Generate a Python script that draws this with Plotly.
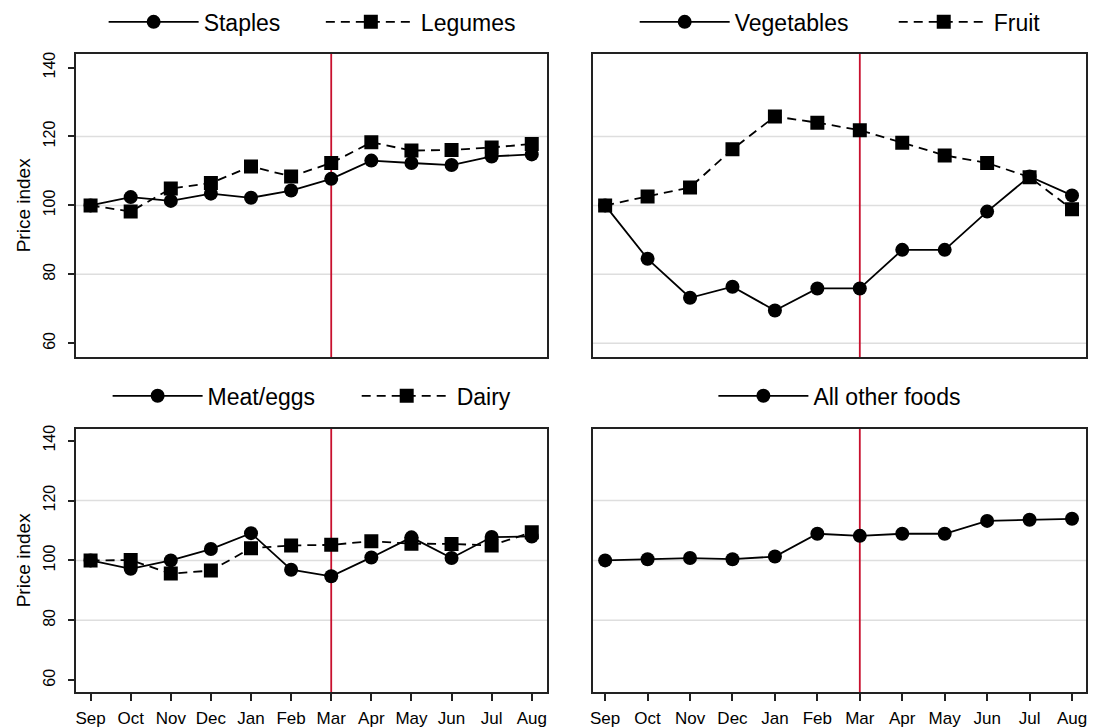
import plotly.graph_objects as go
from plotly.subplots import make_subplots

# ---------------- data ----------------
months = ["Sep", "Oct", "Nov", "Dec", "Jan", "Feb", "Mar", "Apr", "May", "Jun", "Jul", "Aug"]
staples = [100, 102.4, 101.3, 103.4, 102.2, 104.3, 107.7, 113.0, 112.3, 111.7, 114.2, 114.8]
legumes = [100, 98.2, 104.9, 106.5, 111.3, 108.4, 112.3, 118.3, 115.9, 116.1, 116.8, 117.8]
vegetables = [100, 84.5, 73.2, 76.4, 69.5, 75.9, 75.9, 87.1, 87.1, 98.2, 108.4, 102.9]
fruit = [100, 102.6, 105.2, 116.3, 125.8, 124.0, 121.8, 118.2, 114.5, 112.3, 108.2, 98.9]
meat_eggs = [100, 97.2, 100.0, 103.8, 109.1, 96.9, 94.7, 101.0, 107.7, 100.8, 107.8, 108.0]
dairy = [100, 100.1, 95.6, 96.6, 104.1, 105.0, 105.2, 106.4, 105.6, 105.5, 105.0, 109.4]
other_foods = [100, 100.4, 100.8, 100.4, 101.3, 108.9, 108.2, 108.9, 108.9, 113.2, 113.6, 113.9]
y_ticks = [60, 80, 100, 120, 140]
y_title = "Price index"
event_month = "Mar"

FONT = "Liberation Sans, Arial, sans-serif"
RED = "#c8102e"
GRID = "#dedede"
x = list(range(len(months)))

fig = make_subplots(rows=2, cols=2)

def add_series(name, vals, row, col, legend, dashed):
    fig.add_trace(go.Scatter(
        x=x, y=vals, name=name, mode="lines+markers",
        line=dict(color="black", width=1.8, dash="9px,6px" if dashed else "solid"),
        marker=dict(symbol="square" if dashed else "circle", size=14, color="black"),
        legend=legend, showlegend=True,
    ), row=row, col=col)

add_series("Staples", staples, 1, 1, "legend", False)
add_series("Legumes", legumes, 1, 1, "legend2", True)
add_series("Vegetables", vegetables, 1, 2, "legend3", False)
add_series("Fruit", fruit, 1, 2, "legend4", True)
add_series("Meat/eggs", meat_eggs, 2, 1, "legend5", False)
add_series("Dairy", dairy, 2, 1, "legend6", True)
add_series("All other foods", other_foods, 2, 2, "legend7", False)

# gridlines and event line
for r in (1, 2):
    for c in (1, 2):
        grid_vals = y_ticks[1:-1] + ([y_ticks[0]] if (r, c) == (1, 2) else [])
        for v in grid_vals:
            fig.add_hline(y=v, row=r, col=c, line=dict(color=GRID, width=1.5), layer="below")
        fig.add_vline(x=months.index(event_month), row=r, col=c,
                      line=dict(color=RED, width=1.8), layer="below")

# domains
W, H = 1094, 728
xl = [73 / W, 546 / W]
xr = [592 / W, 1087 / W]
yt = [1 - 355 / H, 1 - 50 / H]
yb = [1 - 692 / H, 1 - 427 / H]
YR = [56, 144]

axis_common = dict(showline=True, mirror=True, linecolor="#222", linewidth=1.6,
                   showgrid=False, zeroline=False)

for (r, c, xd, yd) in [(1, 1, xl, yt), (1, 2, xr, yt), (2, 1, xl, yb), (2, 2, xr, yb)]:
    left = c == 1
    bottom = r == 2
    fig.update_xaxes(
        domain=xd, range=[-0.37, 11.38] if left else [-0.29, 11.33],
        tickvals=x, ticktext=months if bottom else [""] * len(months),
        ticks="outside" if bottom else "", ticklen=7, tickwidth=1.5, tickcolor="#222",
        showticklabels=bottom, ticklabelstandoff=3,
        tickfont=dict(family=FONT, size=17, color="black"),
        row=r, col=c, **axis_common)
    fig.update_yaxes(
        domain=yd, range=YR, tickvals=y_ticks,
        ticks="outside" if left else "", ticklen=6, tickwidth=1.5, tickcolor="#222",
        showticklabels=False,
        row=r, col=c, **axis_common)

# separate label-only y axes for the left panels (rotated tick labels)
label_axis = dict(anchor="free", range=YR, tickvals=y_ticks, showline=False, ticks="",
                  showgrid=False, zeroline=False, tickangle=-90,
                  tickfont=dict(family=FONT, size=16, color="black"))
fig.update_layout(
    yaxis5=dict(overlaying="y", position=55 / W, **label_axis),
    yaxis6=dict(overlaying="y3", position=55 / W, **label_axis),
)
for ax, vals in (("y5", staples), ("y6", meat_eggs)):
    fig.add_trace(go.Scatter(x=x, y=vals, xaxis="x" if ax == "y5" else "x3", yaxis=ax,
                             mode="markers", marker=dict(opacity=0), showlegend=False,
                             hoverinfo="skip"))

for yd in (yt, yb):
    fig.add_annotation(text=y_title, textangle=-90, xref="paper", yref="paper",
                       x=20 / W, y=(yd[0] + yd[1]) / 2, xanchor="center", yanchor="middle",
                       showarrow=False, font=dict(family=FONT, size=19, color="black"))

def leg(x_px, y_px):
    return dict(orientation="h", xanchor="left", yanchor="middle",
                x=(x_px - 3) / W, y=1 - y_px / H,
                font=dict(family=FONT, size=23, color="black"),
                bgcolor="rgba(0,0,0,0)", itemwidth=90)

fig.update_layout(
    width=W, height=H,
    margin=dict(l=0, r=0, t=0, b=0),
    paper_bgcolor="white", plot_bgcolor="white",
    font=dict(family=FONT, color="black"),
    legend=leg(104, 18),
    legend2=leg(322, 18),
    legend3=leg(637, 18),
    legend4=leg(897, 18),
    legend5=leg(108, 394),
    legend6=leg(358, 394),
    legend7=leg(716, 394),
)

fig.write_html("out.html", config={"displayModeBar": False},
               post_script="document.body.style.margin='0';document.body.style.overflow='hidden';")
